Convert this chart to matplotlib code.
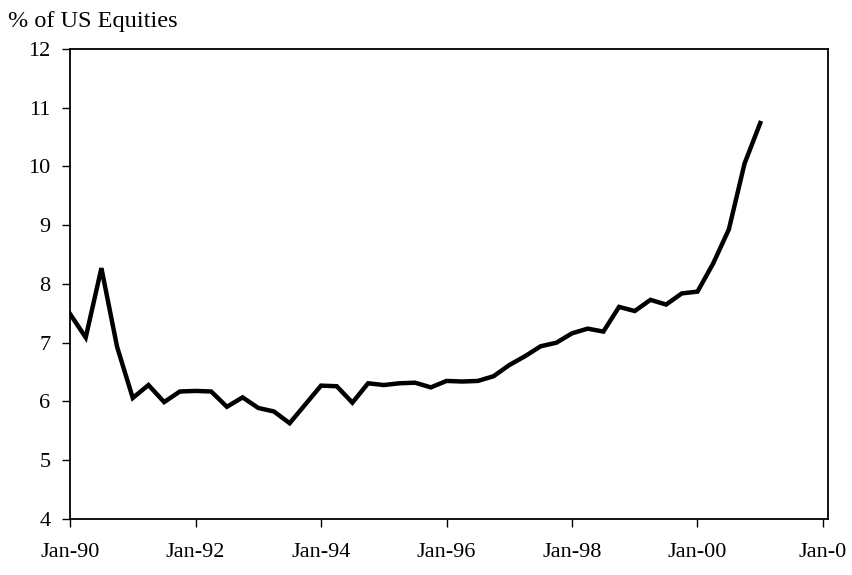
import matplotlib
matplotlib.use("Agg")
import matplotlib.pyplot as plt
import numpy as np

# Quarterly values, Jan-90 .. Jan-01
start_year = 1990
values = [7.49, 7.09, 8.27, 6.93,
          6.06, 6.28, 5.99, 6.17,
          6.18, 6.17, 5.91, 6.07,
          5.89, 5.83, 5.63, 5.95,
          6.27, 6.26, 5.98, 6.31,
          6.28, 6.31, 6.32, 6.24,
          6.35, 6.34, 6.35, 6.43,
          6.62, 6.77, 6.94, 7.00,
          7.16, 7.24, 7.19, 7.61,
          7.54, 7.73, 7.65, 7.84,
          7.87, 8.35, 8.93, 10.05,
          10.74]
tick_years = [1990, 1992, 1994, 1996, 1998, 2000, 2002]
tick_labels = ["Jan-90", "Jan-92", "Jan-94", "Jan-96", "Jan-98", "Jan-00", "Jan-0"]
y_ticks = [4, 5, 6, 7, 8, 9, 10, 11, 12]
y_label = "% of US Equities"

plt.rcParams['font.family'] = ['Liberation Serif', 'DejaVu Serif']

x = start_year + np.arange(len(values)) * 0.25

fig = plt.figure(figsize=(8.53, 5.75), dpi=100)
ax = fig.add_axes([0.0821, 0.0974, 0.8886, 0.8174])
ax.plot(x, values, color='black', linewidth=3.2, solid_joinstyle='miter')
ax.set_xlim(1990, 2002.08)
ax.set_ylim(4, 12)
ax.set_xticks(tick_years)
ax.set_xticklabels(tick_labels)
ax.set_yticks(y_ticks)
for s in ax.spines.values():
    s.set_linewidth(1.3)
    s.set_color('black')
ax.tick_params(axis='both', direction='out', length=6, width=1.0, labelsize=16, colors='black')
ax.tick_params(axis='x', pad=11)
ax.tick_params(axis='y', pad=8)
fig.text(0.009, 0.962, y_label, fontsize=17.5, ha='left', va='center')
fig.savefig("out.png", dpi=100)
